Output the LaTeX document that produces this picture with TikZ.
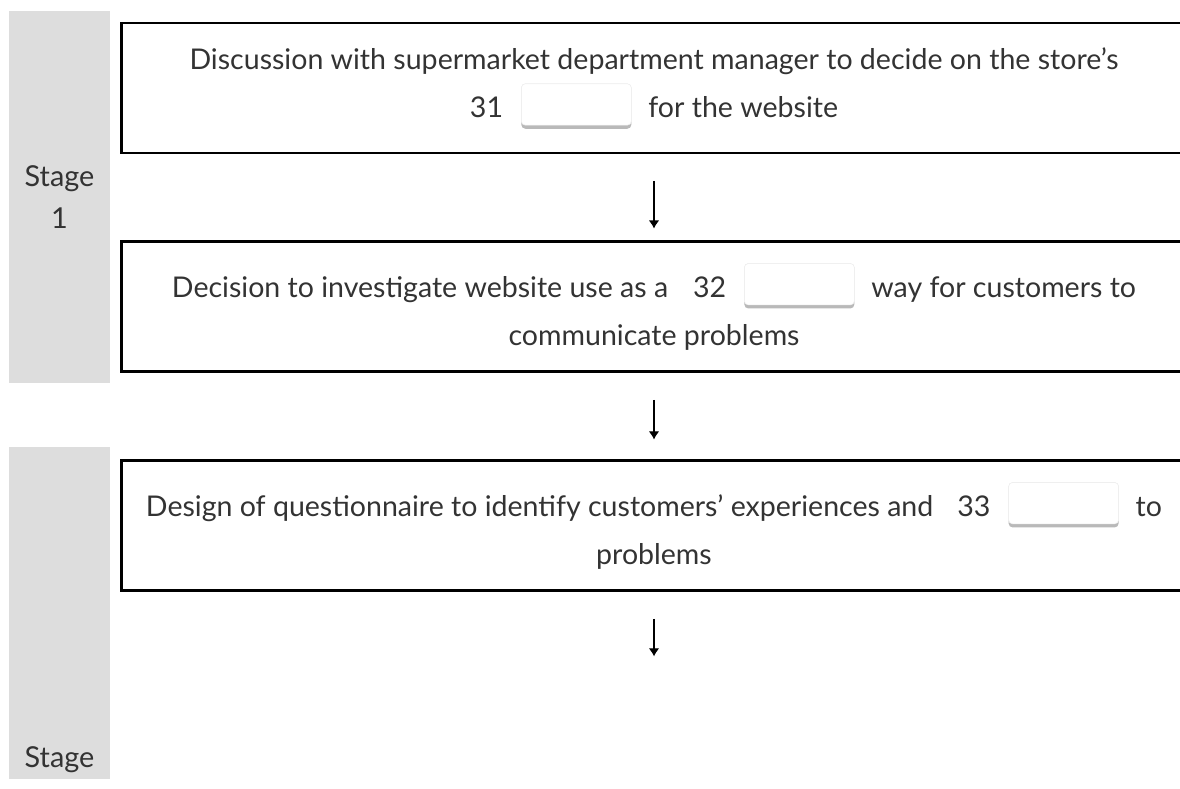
\documentclass[tikz,border=0pt]{standalone}
\usepackage{fontspec}
\setmainfont{Lato}
\usetikzlibrary{positioning, arrows.meta}

\definecolor{stagegray}{HTML}{DDDDDD}
\definecolor{textgray}{HTML}{333333}

% empty answer field with a shaded lower edge
\newcommand{\blank}{\tikz[baseline={(0,0.28cm)}]{
  \fill[gray!55, rounded corners=1mm] (0,0) rectangle (2.75,1.125);
  \filldraw[fill=white, draw=gray!12, line width=0.4pt, rounded corners=1mm] (0,0.09) rectangle (2.75,1.125);}}
\newcommand{\answer}[1]{#1\hspace{0.45cm}\blank\hspace{0.42cm}}

\begin{document}
\begin{tikzpicture}[
  >=Latex,
  node distance=21.5mm,
  box/.style={draw, line width=2.1pt, minimum width=26.63cm, minimum height=3.25cm, align=center,
    text=textgray, font=\fontsize{20.3}{34.5}\selectfont},
  stagebar/.style={fill=stagegray, minimum width=2.525cm, inner sep=0pt},
  stagetext/.style={text=textgray, align=center, font=\fontsize{20.5}{30}\selectfont},
  line/.style={-{Latex[length=2mm,width=2.6mm]}, line width=0.8pt}
]
\clip (0,0) rectangle (29.5,-19.725);

% Stage bars
\node[stagebar, minimum height=9.3cm] (bar1) at (1.4875,-4.925) {};
\node[stagetext] (stage1) at (bar1) {Stage\\1};
\node[stagebar, minimum height=8.3cm] (bar2) at (1.4875,-15.325) {};
\node[stagetext, above=0.5mm of bar2.south] (stage2) {Stage};

% Boxes
\node[box] (box1) at (16.35,-2.2) {Discussion with supermarket department manager to decide on the store’s\\
  \answer{31}for the website};
\node[box, below=of box1] (box2) {Decision to investigate website use as a\hspace{0.62cm}\answer{32}way for customers to\\
  communicate problems};
\node[box, below=of box2] (box3) {Design of questionnaire to identify customers’ experiences and\hspace{0.6cm}\answer{33}to\\
  problems};
\coordinate[below=of box3] (next);

% Arrows
\draw[line, shorten <=6.6mm, shorten >=3mm] (box1) -- (box2);
\draw[line, shorten <=6.6mm, shorten >=5mm] (box2) -- (box3);
\draw[line, shorten <=6.6mm, shorten >=5.5mm] (box3) -- (next);

\end{tikzpicture}
\end{document}
